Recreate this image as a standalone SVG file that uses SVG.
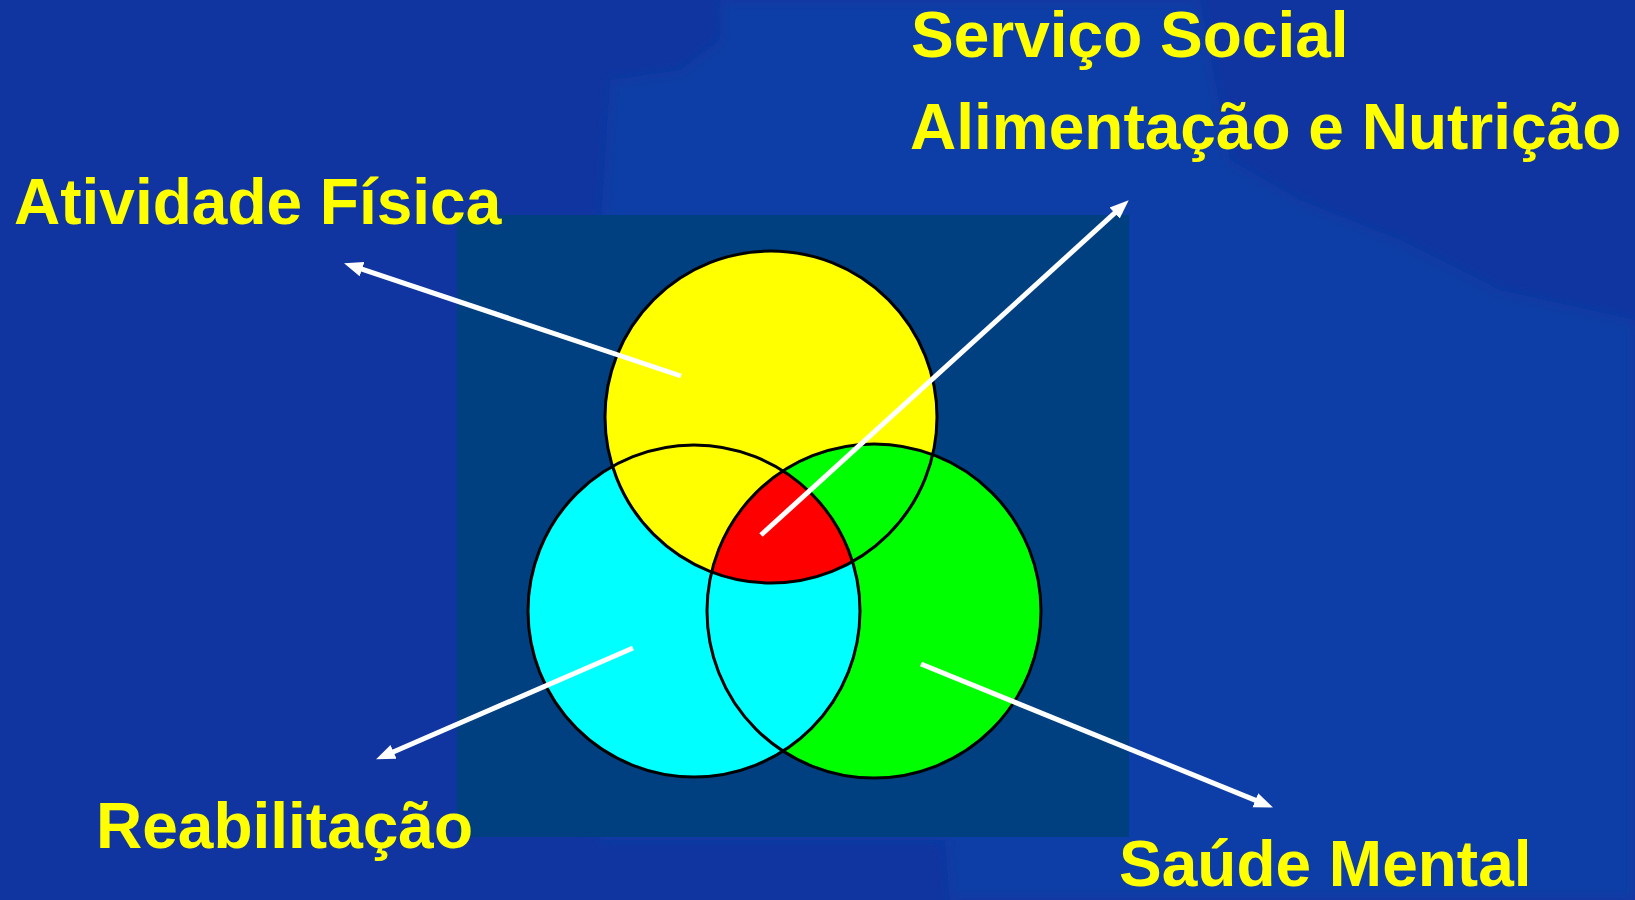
<svg xmlns="http://www.w3.org/2000/svg" width="1635" height="900" viewBox="0 0 1635 900">
  <defs>
    <style>
      .lbl { font-family: "Liberation Sans", Arial, sans-serif; font-weight: bold; font-size: 64px; fill: #FFFF00; }
      .ring { fill: none; stroke: #000000; stroke-width: 3; }
      .conn { stroke: #FFFFFF; stroke-width: 5; fill: none; marker-end: url(#head); }
    </style>
    <marker id="head" markerUnits="userSpaceOnUse" markerWidth="21" markerHeight="18" viewBox="0 0 21 18" refX="1" refY="9" orient="auto">
      <path d="M0,1.5 L19,9 L0,16.5 Z" fill="#FFFFFF"/>
    </marker>
    <filter id="soft" x="-5%" y="-5%" width="110%" height="110%">
      <feGaussianBlur stdDeviation="6"/>
    </filter>
    <clipPath id="clipCyan"><circle cx="694" cy="611" r="166"/></clipPath>
    <clipPath id="clipGreen"><circle cx="874" cy="611" r="167"/></clipPath>
  </defs>

  <!-- background -->
  <rect x="0" y="0" width="1635" height="900" fill="#1035A0"/>
  <path d="M720,0 L1200,0 L1230,160 L1300,200 L1400,240 L1500,290 L1635,320 L1635,900 L950,900 L945,840 L600,840 L600,240 L610,80 L680,70 L720,40 Z" fill="#0D3CA6" filter="url(#soft)"/>

  <!-- dark panel -->
  <rect x="457" y="215" width="672" height="622" fill="#003F80"/>

  <!-- Venn circles -->
  <g id="yellow-circle">
    <circle cx="771" cy="417" r="166" fill="#FFFF00"/>
  </g>
  <g id="cyan-circle">
    <circle cx="694" cy="611" r="166" fill="#00FFFF"/>
  </g>
  <g id="green-circle">
    <circle cx="874" cy="611" r="167" fill="#00FF00"/>
  </g>
  <g id="overlaps">
    <circle cx="694" cy="611" r="166" fill="#00FFFF" clip-path="url(#clipGreen)"/>
    <circle cx="771" cy="417" r="166" fill="#FFFF00" clip-path="url(#clipCyan)"/>
    <g clip-path="url(#clipGreen)">
      <circle cx="771" cy="417" r="166" fill="#FF0000" clip-path="url(#clipCyan)"/>
    </g>
  </g>
  <g id="outlines">
    <circle class="ring" cx="771" cy="417" r="166"/>
    <circle class="ring" cx="694" cy="611" r="166"/>
    <circle class="ring" cx="874" cy="611" r="167"/>
  </g>

  <!-- connectors -->
  <g id="connectors">
    <path class="conn" d="M681,376 L361.1,268.9"/>
    <path class="conn" d="M761,535 L1115.4,212.4"/>
    <path class="conn" d="M633,648 L392.6,752.2"/>
    <path class="conn" d="M921,664 L1256.3,800.6"/>
  </g>

  <!-- labels -->
  <g id="label-atividade"><text class="lbl" x="14" y="224">Atividade Física</text></g>
  <g id="label-servico"><text class="lbl" x="911" y="57">Serviço Social</text></g>
  <g id="label-alimentacao"><text class="lbl" x="910" y="149">Alimentação e Nutrição</text></g>
  <g id="label-reabilitacao"><text class="lbl" x="96" y="848">Reabilitação</text></g>
  <g id="label-saude"><text class="lbl" x="1119" y="886">Saúde Mental</text></g>
</svg>
